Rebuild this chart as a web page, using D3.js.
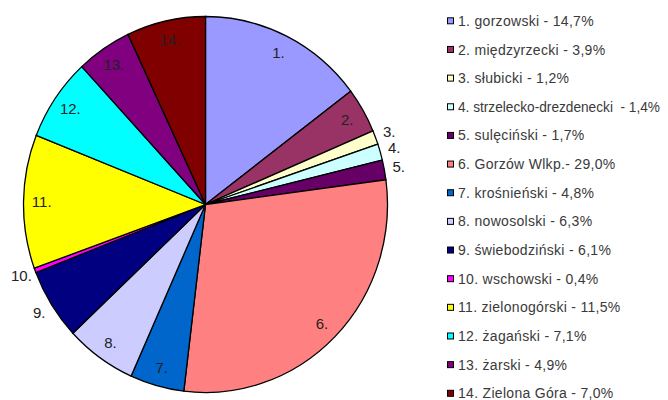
<html>
<head>
<meta charset="utf-8">
<script src="https://cdnjs.cloudflare.com/ajax/libs/d3/7.8.5/d3.min.js"></script>
<style>
  body { margin: 0; background: #fff; }
  text { font-family: "Liberation Sans", Arial, sans-serif; }
</style>
</head>
<body>
<svg id="chart" width="668" height="400"></svg>
<script>
const WIDTH = 668
const HEIGHT = 400

// data
const numbers = ["1.", "2.", "3.", "4.", "5.", "6.", "7.", "8.", "9.", "10.", "11.", "12.", "13.", "14."]
const values = [14.7, 3.9, 1.2, 1.4, 1.7, 29.0, 4.8, 6.3, 6.1, 0.4, 11.5, 7.1, 4.9, 7.0]
const legendLabels = [
  "1. gorzowski - 14,7%",
  "2. międzyrzecki - 3,9%",
  "3. słubicki - 1,2%",
  "4. strzelecko-drezdenecki\u00a0 - 1,4%",
  "5. sulęciński - 1,7%",
  "6. Gorzów Wlkp.- 29,0%",
  "7. krośnieński - 4,8%",
  "8. nowosolski - 6,3%",
  "9. świebodziński - 6,1%",
  "10. wschowski - 0,4%",
  "11. zielonogórski - 11,5%",
  "12. żagański - 7,1%",
  "13. żarski - 4,9%",
  "14. Zielona Góra - 7,0%"
]
const colors = ["#9999ff", "#993366", "#ffffcc", "#ccffff", "#660066", "#ff8080", "#0066cc",
                "#ccccff", "#000080", "#ff00ff", "#ffff00", "#00ffff", "#800080", "#800000"]
// labels drawn outside the pie
const outside = ["3.", "4.", "5.", "9.", "10."]

const CX = 205.5, CY = 204.5
const RX = 182, RY = 188
const LEGEND_X = 447

const svg = d3.select("#chart")

let data = values.map((v, i) => ({ key: numbers[i], value: v }))

const pie = d3.pie().sort(null).value(d => d.value)
const arcs = pie(data)

const color = d3.scaleOrdinal().domain(numbers).range(colors)

const arc = d3.arc().innerRadius(0).outerRadius(RX)

let pieG = svg.append("g")
  .attr("transform", `translate(${CX},${CY}) scale(1,${RY / RX})`)

pieG.selectAll("path")
  .data(arcs)
  .enter()
  .append("path")
  .attr("d", arc)
  .attr("fill", d => color(d.data.key))
  .attr("stroke", "#000")
  .attr("stroke-width", 1.3)
  .attr("vector-effect", "non-scaling-stroke")

// slice labels
function labelPos(d) {
  let a = (d.startAngle + d.endAngle) / 2
  let k = outside.includes(d.data.key) ? 1.08 : 0.9
  return [CX + Math.sin(a) * RX * k, CY - Math.cos(a) * RY * k]
}

svg.append("g")
  .selectAll("text")
  .data(arcs)
  .enter()
  .append("text")
  .attr("x", d => labelPos(d)[0])
  .attr("y", d => labelPos(d)[1])
  .attr("dy", "0.35em")
  .attr("text-anchor", "middle")
  .attr("font-size", 15)
  .attr("fill", "#222")
  .text(d => d.data.key)

// legend
const legendY = d3.scalePoint().domain(numbers).range([20.8, 393.3])

let legend = svg.append("g")
  .selectAll("g")
  .data(numbers)
  .enter()
  .append("g")
  .attr("transform", d => `translate(${LEGEND_X},${legendY(d)})`)

legend.append("rect")
  .attr("x", 0.5)
  .attr("y", -3)
  .attr("width", 6)
  .attr("height", 6)
  .attr("fill", d => color(d))
  .attr("stroke", "#000")
  .attr("stroke-width", 1)

legend.append("text")
  .attr("x", 11)
  .attr("dy", "0.36em")
  .attr("font-size", 14)
  .attr("letter-spacing", 0.3)
  .attr("fill", "#3a3a3a")
  .text((d, i) => legendLabels[i])
  .each(function () {
    // squeeze a label that would run past the right edge
    let room = WIDTH - LEGEND_X - 11 - 8
    if (this.getComputedTextLength() > room) {
      d3.select(this).attr("letter-spacing", 0)
        .attr("textLength", room).attr("lengthAdjust", "spacingAndGlyphs")
    }
  })
</script>
</body>
</html>
